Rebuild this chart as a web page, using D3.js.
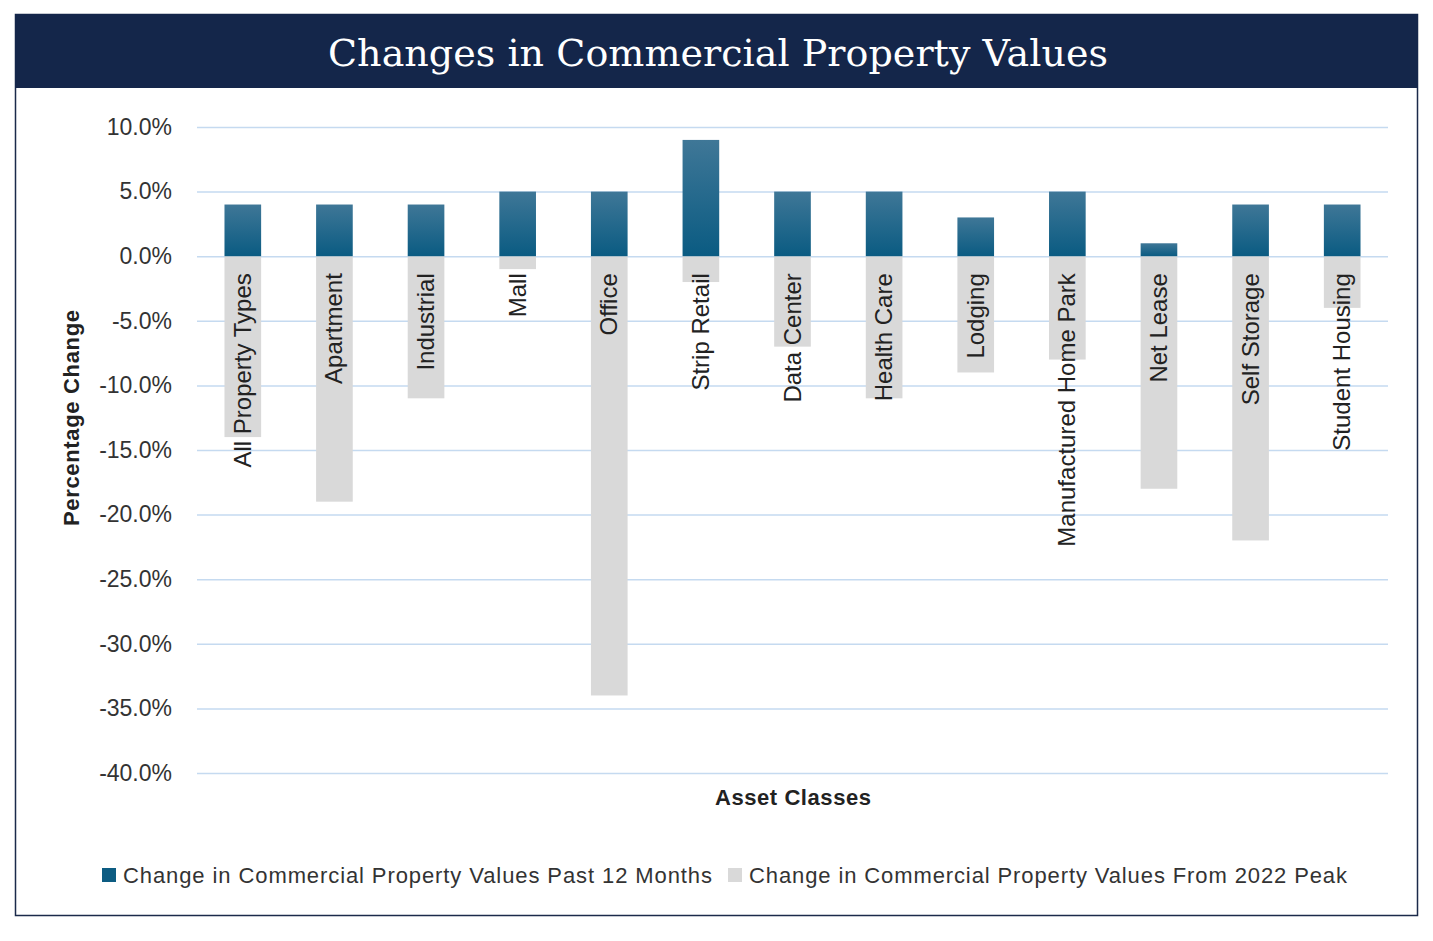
<!DOCTYPE html>
<html><head><meta charset="utf-8">
<script src="https://cdn.jsdelivr.net/npm/d3@7"></script>
<style>body{margin:0;background:#fff}</style>
</head><body>
<svg id="chart" width="1433" height="941"></svg>
<script>
const categories = ["All Property Types","Apartment","Industrial","Mall","Office","Strip Retail","Data Center","Health Care","Lodging","Manufactured Home Park","Net Lease","Self Storage","Student Housing"];
const past12 = [4,4,4,5,5,9,5,5,3,5,1,4,4];
const fromPeak = [-14,-19,-11,-1,-34,-2,-7,-11,-9,-8,-18,-22,-4];
const yTicks = [10,5,0,-5,-10,-15,-20,-25,-30,-35,-40];
const seriesNames = ["Change in Commercial Property Values Past 12 Months","Change in Commercial Property Values From 2022 Peak"];

const svg = d3.select("#chart");
const font = "Liberation Sans, Arial, sans-serif";

// frame + title band
svg.append("rect").attr("x",15.5).attr("y",14.5).attr("width",1402).attr("height",901)
  .attr("fill","#fff").attr("stroke","#1b2a4a").attr("stroke-width",1.5);
svg.append("rect").attr("x",15).attr("y",14).attr("width",1403).attr("height",74).attr("fill","#14264a");
svg.append("text").attr("x",718).attr("y",66).attr("text-anchor","middle")
  .attr("font-family","DejaVu Serif, Liberation Serif, serif").attr("font-size",38)
  .attr("textLength",780).attr("fill","#fff").text("Changes in Commercial Property Values");

const x = d3.scaleBand().domain(categories).range([197,1388]).paddingInner(0.6).paddingOuter(0.3);
const y = d3.scaleLinear().domain([-40,10]).range([773,127]);

const defs = svg.append("defs");
const g = defs.append("linearGradient").attr("id","blue").attr("x1",0).attr("x2",0).attr("y1",0).attr("y2",1);
g.append("stop").attr("offset","0%").attr("stop-color","#3f7797");
g.append("stop").attr("offset","100%").attr("stop-color","#0a5b82");

// grid
svg.append("g").attr("transform","translate(197,0)")
  .call(d3.axisLeft(y).tickValues(yTicks).tickSize(-1191).tickFormat(d=>d.toFixed(1)+"%"))
  .call(a=>a.select(".domain").remove())
  .call(a=>a.selectAll("line").attr("stroke","#c5daf0").attr("stroke-width",1.5))
  .call(a=>a.selectAll("text").attr("x",-25).attr("font-family",font).attr("font-size",23).attr("fill","#333"));

// bars
svg.append("g").selectAll("rect").data(categories).join("rect")
  .attr("x",d=>x(d)).attr("width",x.bandwidth())
  .attr("y",y(0)).attr("height",(d,i)=>y(fromPeak[i])-y(0)).attr("fill","#d9d9d9");
svg.append("g").selectAll("rect").data(categories).join("rect")
  .attr("x",d=>x(d)).attr("width",x.bandwidth())
  .attr("y",(d,i)=>y(past12[i])).attr("height",(d,i)=>y(0)-y(past12[i])).attr("fill","url(#blue)");

// category labels
svg.append("g").selectAll("text").data(categories).join("text")
  .attr("transform",d=>`translate(${x(d)+x.bandwidth()/2+8},${y(0)+17}) rotate(-90)`)
  .attr("text-anchor","end").attr("font-family",font).attr("font-size",24).attr("fill","#222").text(d=>d);

// axis titles
svg.append("text").attr("transform","translate(79,418) rotate(-90)").attr("text-anchor","middle")
  .attr("font-family",font).attr("font-size",22).attr("font-weight","bold").attr("fill","#222")
  .attr("textLength",216).text("Percentage Change");
svg.append("text").attr("x",793).attr("y",805).attr("text-anchor","middle")
  .attr("font-family",font).attr("font-size",22).attr("font-weight","bold").attr("fill","#222")
  .attr("textLength",156).text("Asset Classes");

// legend
const leg = svg.append("g");
const colors = ["#0d5c82","#d9d9d9"];
const lx = [102,728];
const lw = [589,598];
seriesNames.forEach((n,i)=>{
  leg.append("rect").attr("x",lx[i]).attr("y",868).attr("width",14).attr("height",14).attr("fill",colors[i]);
  leg.append("text").attr("x",lx[i]+21).attr("y",883).attr("font-family",font).attr("font-size",22)
    .attr("textLength",lw[i]).attr("fill","#333").text(n);
});
</script>
</body></html>
